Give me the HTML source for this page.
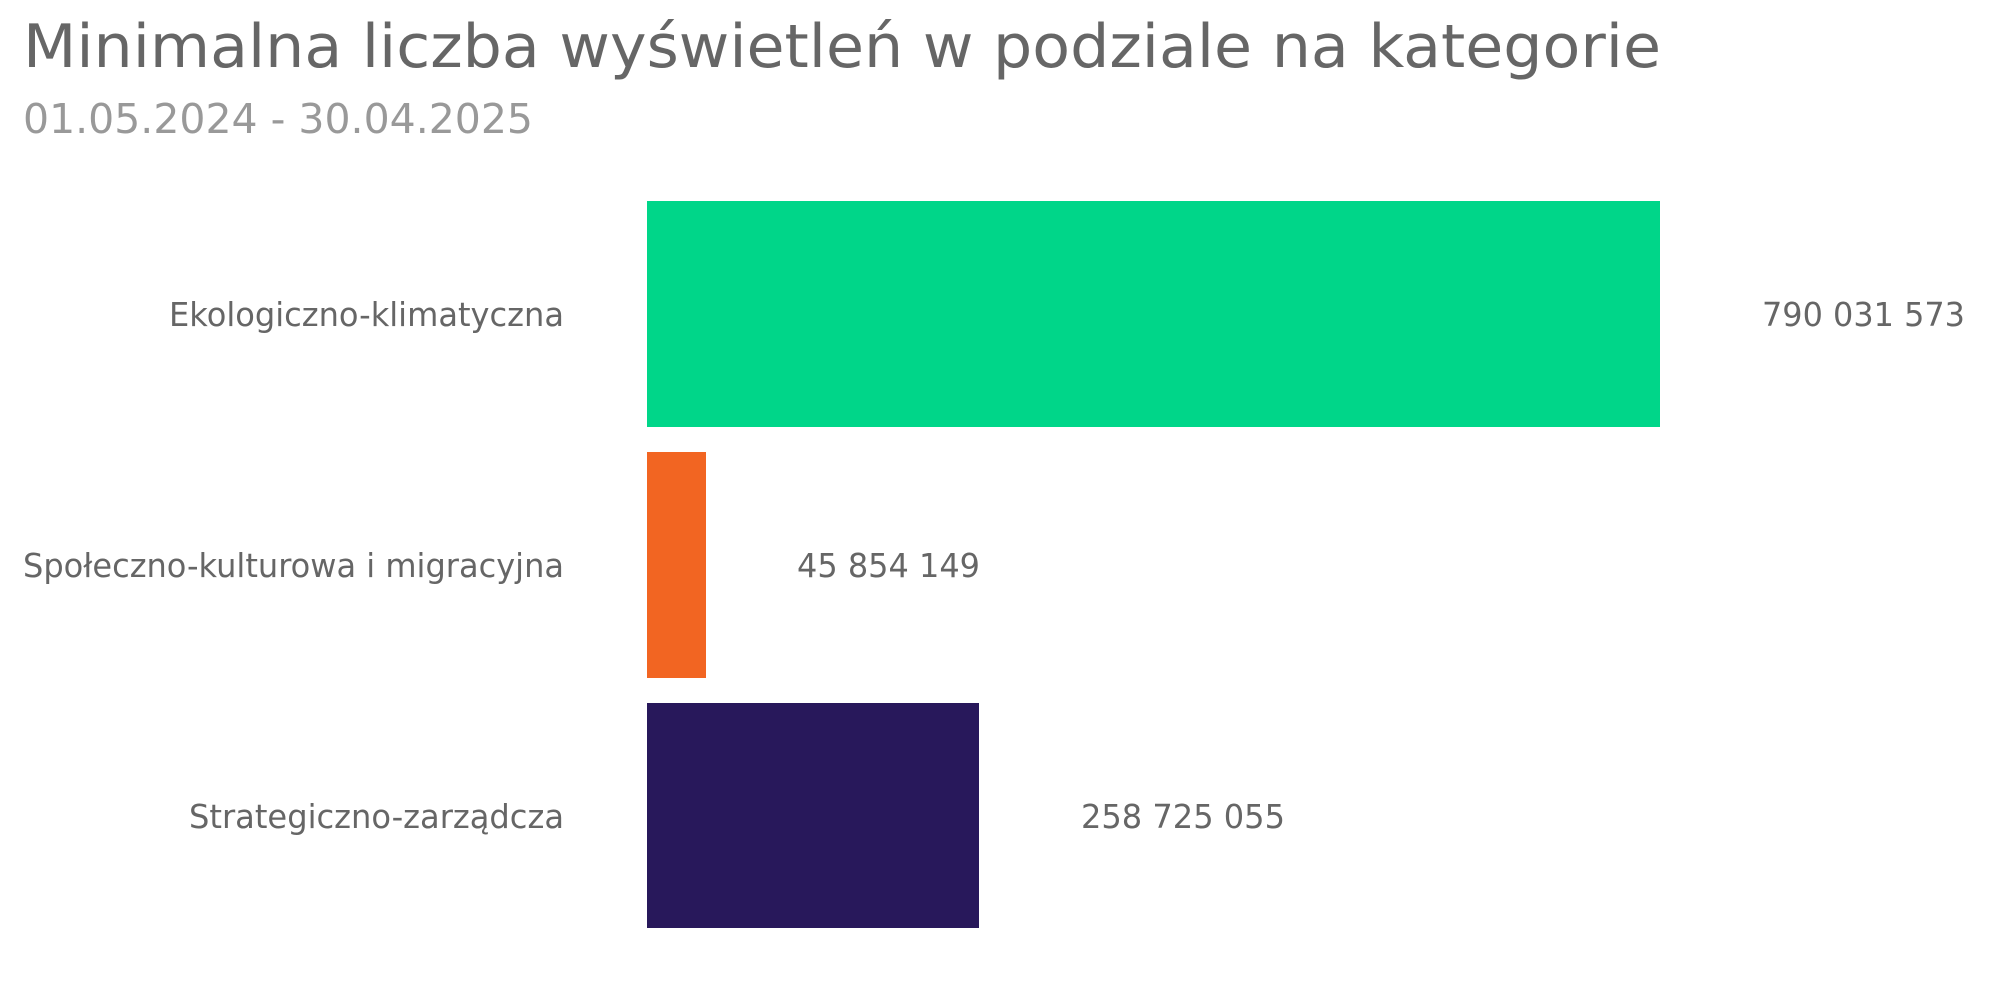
<!DOCTYPE html>
<html><head><meta charset="utf-8"><style>body{margin:0;background:#fff}svg{display:block}</style></head>
<body>
<svg width="1999" height="1000" xmlns="http://www.w3.org/2000/svg" font-family="DejaVu Sans, Liberation Sans, sans-serif">
<text x="23" y="67" font-size="60" fill="#666" textLength="1638" lengthAdjust="spacingAndGlyphs">Minimalna liczba wyświetleń w podziale na kategorie</text>
<text x="23" y="133" font-size="41" fill="#999" textLength="510" lengthAdjust="spacingAndGlyphs">01.05.2024 - 30.04.2025</text>
<rect x="647" y="201" width="1013" height="226" fill="#00d689"/>
<rect x="647" y="452" width="59" height="226" fill="#f26522"/>
<rect x="647" y="703" width="332" height="225" fill="#28185b"/>
<g font-size="33" fill="#666" text-anchor="end">
<text x="564" y="326" textLength="395" lengthAdjust="spacingAndGlyphs">Ekologiczno-klimatyczna</text>
<text x="564" y="577" textLength="541" lengthAdjust="spacingAndGlyphs">Społeczno-kulturowa i migracyjna</text>
<text x="564" y="828" textLength="375" lengthAdjust="spacingAndGlyphs">Strategiczno-zarządcza</text>
</g>
<g font-size="33" fill="#666">
<text x="1762" y="326" textLength="203" lengthAdjust="spacingAndGlyphs">790 031 573</text>
<text x="797" y="577" textLength="183" lengthAdjust="spacingAndGlyphs">45 854 149</text>
<text x="1081" y="828" textLength="204" lengthAdjust="spacingAndGlyphs">258 725 055</text>
</g>
</svg>
</body></html>
